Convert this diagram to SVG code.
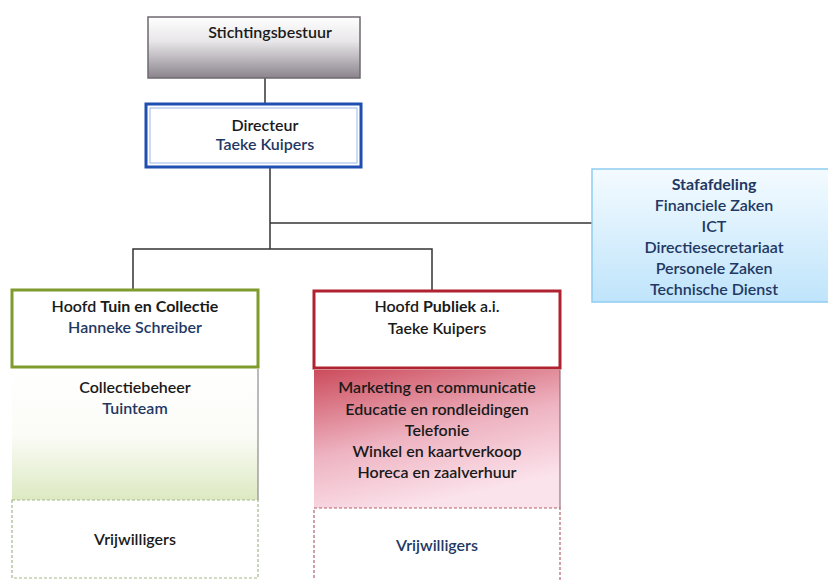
<svg xmlns="http://www.w3.org/2000/svg" width="828" height="580" viewBox="0 0 828 580">
<defs>
<linearGradient id="gGray" x1="0" y1="0" x2="0" y2="1">
<stop offset="0" stop-color="#ffffff"/><stop offset="0.4" stop-color="#e8e6e8"/><stop offset="1" stop-color="#8a838c"/>
</linearGradient>
<linearGradient id="gBlue" x1="0" y1="0" x2="0" y2="1">
<stop offset="0" stop-color="#f4fbff"/><stop offset="1" stop-color="#bfe4fb"/>
</linearGradient>
<linearGradient id="gGreen" x1="0" y1="0" x2="0" y2="1">
<stop offset="0" stop-color="#ffffff"/><stop offset="0.5" stop-color="#fbfcf7"/><stop offset="1" stop-color="#dde9c2"/>
</linearGradient>
<linearGradient id="gRed" x1="0" y1="0" x2="0.4" y2="1">
<stop offset="0" stop-color="#cc4c5c"/><stop offset="0.55" stop-color="#eeb3c1"/><stop offset="1" stop-color="#fbe3ec"/>
</linearGradient>
<style>
text{font-family:Lato,"Liberation Sans",sans-serif;font-size:16px;text-anchor:middle;font-weight:600}
.dk{fill:#1a1a1a}
.nv{fill:#1f3864}
.b{font-weight:bold}
.conn{stroke:#333;stroke-width:1.5;fill:none}
</style>
</defs>
<g id="connectors">
<line class="conn" x1="265" y1="78" x2="265" y2="104"/>
<polyline class="conn" points="270,168 270,249"/>
<line class="conn" x1="270" y1="223" x2="593" y2="223"/>
<polyline class="conn" points="133,289 133,249 432,249 432,290"/>
</g>
<g id="stichtingsbestuur">
<rect x="148" y="17" width="212" height="61" fill="url(#gGray)" stroke="#6f6870" stroke-width="1.5"/>
<text x="270" y="38" class="dk">Stichtingsbestuur</text>
</g>
<g id="directeur">
<rect x="146" y="104" width="215" height="63" fill="#fff" stroke="#1f4fb0" stroke-width="3"/>
<rect x="150" y="108" width="207" height="55" fill="none" stroke="#9ab6e6" stroke-width="1"/>
<text x="265" y="131" class="dk">Directeur</text>
<text x="265" y="150" class="nv">Taeke Kuipers</text>
</g>
<g id="stafafdeling">
<rect x="592" y="169" width="240" height="133" fill="url(#gBlue)" stroke="#8fcdf3" stroke-width="1.5"/>
<text x="714" y="190" class="nv b">Stafafdeling</text>
<text x="714" y="211" class="nv">Financiele Zaken</text>
<text x="714" y="232" class="nv">ICT</text>
<text x="714" y="253" class="nv">Directiesecretariaat</text>
<text x="714" y="274" class="nv">Personele Zaken</text>
<text x="714" y="295" class="nv">Technische Dienst</text>
</g>
<g id="hoofd-tuin">
<rect x="12" y="290" width="246" height="77" fill="#fff" stroke="#7f9b2e" stroke-width="3"/>
<text x="135" y="312" class="dk">Hoofd <tspan class="b">Tuin en Collectie</tspan></text>
<text x="135" y="333" class="nv">Hanneke Schreiber</text>
</g>
<g id="tuin-afdelingen">
<rect x="12" y="369" width="246" height="131" fill="url(#gGreen)"/>
<line x1="258" y1="369" x2="258" y2="500" stroke="#777" stroke-width="1"/>
<text x="135" y="393" class="dk">Collectiebeheer</text>
<text x="135" y="414" class="nv">Tuinteam</text>
</g>
<g id="tuin-vrijwilligers">
<rect x="12" y="500" width="246" height="78" fill="#fff" stroke="#a3b88a" stroke-width="1.2" stroke-dasharray="3,2"/>
<text x="135" y="545" class="dk">Vrijwilligers</text>
</g>
<g id="hoofd-publiek">
<rect x="314" y="291" width="246" height="77" fill="#fff" stroke="#b0222f" stroke-width="3"/>
<text x="437" y="312" class="dk">Hoofd <tspan class="b">Publiek</tspan> a.i.</text>
<text x="437" y="334" class="dk">Taeke Kuipers</text>
</g>
<g id="publiek-afdelingen">
<rect x="314" y="370" width="246" height="138" fill="url(#gRed)"/>
<line x1="560" y1="370" x2="560" y2="508" stroke="#8a5a66" stroke-width="1"/>
<text x="437" y="393" class="dk">Marketing en communicatie</text>
<text x="437" y="415" class="dk">Educatie en rondleidingen</text>
<text x="437" y="436" class="dk">Telefonie</text>
<text x="437" y="457" class="dk">Winkel en kaartverkoop</text>
<text x="437" y="478" class="dk">Horeca en zaalverhuur</text>
</g>
<g id="publiek-vrijwilligers">
<rect x="314" y="508" width="246" height="74" fill="#fff" stroke="#b0616d" stroke-width="1.2" stroke-dasharray="3,2"/>
<text x="437" y="551" class="nv">Vrijwilligers</text>
</g>
</svg>
